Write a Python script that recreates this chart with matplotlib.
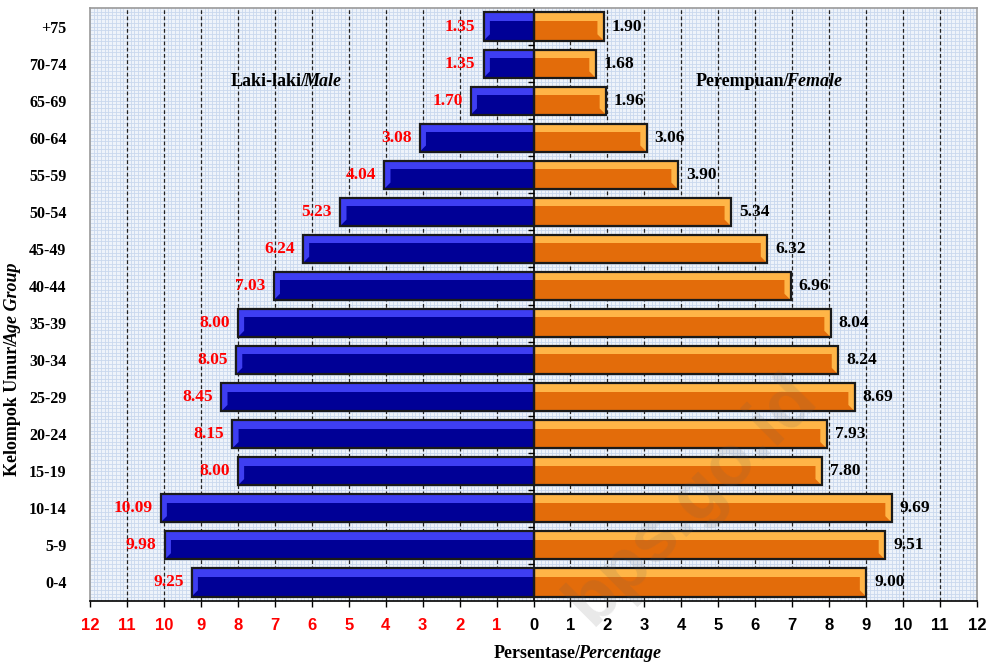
import numpy as np
import matplotlib
matplotlib.use("Agg")
import matplotlib.pyplot as plt
from matplotlib.patches import Polygon

age_groups = ["0-4", "5-9", "10-14", "15-19", "20-24", "25-29", "30-34", "35-39",
              "40-44", "45-49", "50-54", "55-59", "60-64", "65-69", "70-74", "+75"]
male = [9.25, 9.98, 10.09, 8.00, 8.15, 8.45, 8.05, 8.00,
        7.03, 6.24, 5.23, 4.04, 3.08, 1.70, 1.35, 1.35]
female = [9.00, 9.51, 9.69, 7.80, 7.93, 8.69, 8.24, 8.04,
          6.96, 6.32, 5.34, 3.90, 3.06, 1.96, 1.68, 1.90]
xticks = list(range(-12, 13))

SERIF = "Liberation Serif"
SANS = "Liberation Sans"

fig = plt.figure(figsize=(9.92, 6.66), dpi=100)
fig.patch.set_facecolor("white")
ax = fig.add_axes([90/992, 65/666, 887/992, 593/666])
ax.set_facecolor("#EEF3FA")

y = np.arange(len(age_groups))
ax.set_xlim(-12, 12)
ax.set_ylim(-0.5, len(age_groups) - 0.5)

# fine background grid
for xv in np.arange(-12, 12.001, 0.1):
    ax.axvline(xv, color="#C9D8EE", lw=0.6, zorder=0.5)
for yv in np.arange(-0.5, len(age_groups) - 0.5, 0.1):
    ax.axhline(yv, color="#C9D8EE", lw=0.6, zorder=0.5)
# integer dashed grid
for xv in xticks:
    if xv == 0 or abs(xv) == 12:
        continue
    ax.axvline(xv, color="#222222", lw=0.9, ls=(0, (3, 2)), zorder=1)
ax.axvline(0, color="black", lw=1.2, zorder=1)
# small tick marks on the centre axis between categories
ax.plot(np.full(len(age_groups) - 1, -0.06), y[:-1] + 0.5, ls="none", marker="_",
        ms=5, mew=1.0, color="black", zorder=1)

h = 0.76
top_frac = 0.30
bev_x = 0.17
bev_y = 0.17

blue_dark, blue_light = "#000096", "#3E3EF2"
or_dark, or_light = "#E36C0A", "#FFB547"

def draw_bars(vals, sign, dark, light):
    v = np.array(vals) * sign
    ax.barh(y, v, height=h, color=dark, lw=0, zorder=2)
    s = h * top_frac
    ax.barh(y + h / 2 - s / 2, v, height=s, color=light, lw=0, zorder=2.1)
    for yi, vi in zip(y, v):
        yt, yb = yi + h / 2, yi - h / 2
        d = -sign * bev_x
        poly = Polygon([(vi, yt), (vi + d, yt - bev_y), (vi + d, yb + bev_y), (vi, yb)],
                       closed=True, facecolor=light, lw=0, zorder=2.2)
        ax.add_patch(poly)
    ax.barh(y, v, height=h, fill=False, edgecolor="#1a1a1a", lw=1.6, zorder=2.5)

draw_bars(male, -1, blue_dark, blue_light)
draw_bars(female, 1, or_dark, or_light)

# value labels
for yi, m, f in zip(y, male, female):
    ax.text(-m - 0.22, yi, f"{m:.2f}", ha="right", va="center", color="#FF0000",
            fontfamily=SERIF, fontweight="bold", fontsize=12.5, zorder=3)
    ax.text(f + 0.22, yi, f"{f:.2f}", ha="left", va="center", color="black",
            fontfamily=SERIF, fontweight="bold", fontsize=12.5, zorder=3)

# ticks
ax.set_xticks(xticks)
ax.set_xticklabels([str(abs(t)) for t in xticks], fontfamily=SANS, fontweight="bold", fontsize=12)
for t, lab in zip(xticks, ax.get_xticklabels()):
    lab.set_color("#FF0000" if t < 0 else "black")
ax.tick_params(axis="x", direction="out", length=4, width=1, color="black", pad=8)
ax.set_yticks(y)
ax.set_yticklabels(age_groups, fontfamily=SERIF, fontweight="bold", fontsize=11.5)
ax.tick_params(axis="y", length=0, pad=17)

for side in ["top", "left", "right"]:
    ax.spines[side].set_color("#9A9A9A")
    ax.spines[side].set_linewidth(1.2)
ax.spines["bottom"].set_color("black")
ax.spines["bottom"].set_linewidth(1.2)

FS = 13
# series labels
t1 = ax.text(-8.19, 13.52, "Laki-laki/", ha="left", va="center", fontfamily=SERIF,
             fontweight="bold", fontsize=FS, zorder=3)
ax.annotate("Male", xy=(1, 0), xycoords=t1, xytext=(-2.5, 0), textcoords="offset points",
            va="bottom", ha="left", fontfamily=SERIF,
            fontweight="bold", fontstyle="italic", fontsize=FS, zorder=3)
t2 = ax.text(4.4, 13.52, "Perempuan/", ha="left", va="center", fontfamily=SERIF,
             fontweight="bold", fontsize=FS, zorder=3)
ax.annotate("Female", xy=(1, 0), xycoords=t2, xytext=(-2.5, 0), textcoords="offset points",
            va="bottom", ha="left", fontfamily=SERIF,
            fontweight="bold", fontstyle="italic", fontsize=FS, zorder=3)

# axis titles
xl = fig.text(494/992, 1 - 653/666, "Persentase/", ha="left", va="center",
              fontfamily=SERIF, fontweight="bold", fontsize=FS)
ax.annotate("Percentage", xy=(1, 0), xycoords=xl, xytext=(-2.5, 0), textcoords="offset points",
            va="bottom", ha="left",
            fontfamily=SERIF, fontweight="bold", fontstyle="italic", fontsize=FS,
            annotation_clip=False)
yl = fig.text(13/992, 1 - 476/666, "Kelompok Umur/", ha="center", va="bottom", rotation=90,
              fontfamily=SERIF, fontweight="bold", fontsize=FS)
ax.annotate("Age Group", xy=(0, 1), xycoords=yl, xytext=(0, -2.5), textcoords="offset points",
            va="bottom", ha="left", rotation=90,
            fontfamily=SERIF, fontweight="bold", fontstyle="italic", fontsize=FS,
            annotation_clip=False)

# watermark
fig.text(692/992, 1 - 500/666, "bps.go.id", ha="center", va="center", rotation=45,
         fontfamily=SANS, fontweight="bold", fontsize=52, color="#606060", alpha=0.14,
         zorder=10)

fig.savefig("out.png", dpi=100)
